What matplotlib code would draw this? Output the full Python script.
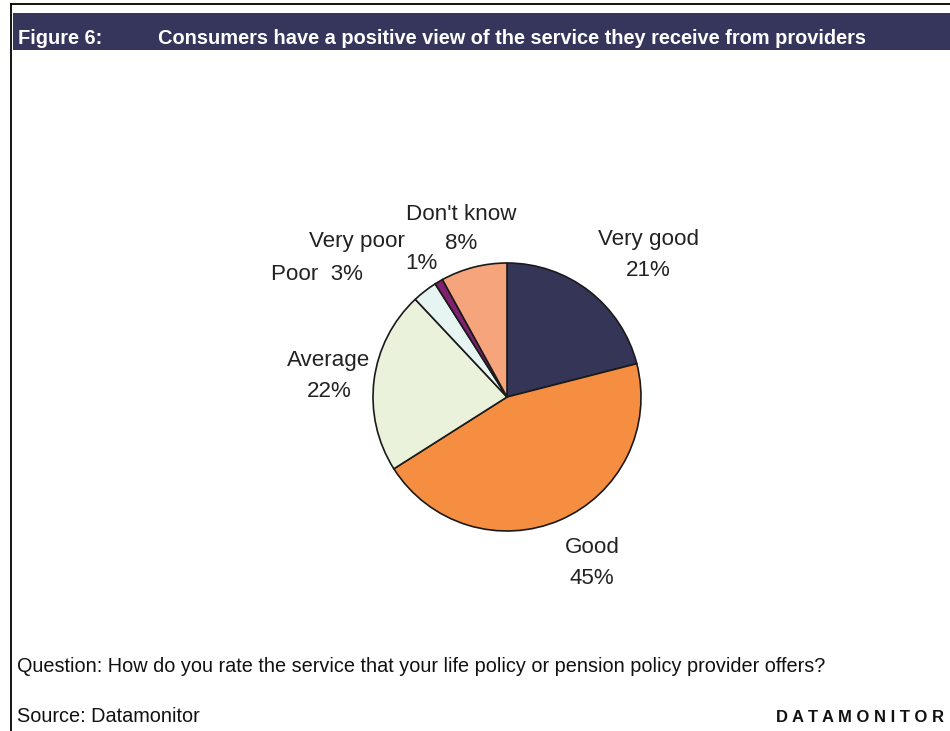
import matplotlib
matplotlib.use("Agg")
import matplotlib.pyplot as plt
from matplotlib.patches import Rectangle
from matplotlib.lines import Line2D

plt.rcParams['font.family'] = ['Liberation Sans', 'DejaVu Sans']

# Survey responses (share of consumers, %)
categories = ["Very good", "Good", "Average", "Poor", "Very poor", "Don't know"]
shares = [21, 45, 22, 3, 1, 8]
colors = ["#343557", "#F68E42", "#EAF2DC", "#E6F5F2", "#7E2270", "#F5A47C"]

title_num = "Figure 6:"
title_text = "Consumers have a positive view of the service they receive from providers"
question = "Question: How do you rate the service that your life policy or pension policy provider offers?"
source = "Source: Datamonitor"
brand = "DATAMONITOR"

W, H = 950, 731
fig = plt.figure(figsize=(W / 100, H / 100), dpi=100)
fig.patch.set_facecolor("white")


def fx(px):
    return px / W


def fy(py):
    return 1 - py / H


# Frame: top rule and left rule
fig.add_artist(Line2D([fx(11), 1], [fy(4), fy(4)], color="black", lw=1.3))
fig.add_artist(Line2D([fx(11), fx(11)], [fy(4), 0], color="black", lw=1.3))

# Header band
fig.add_artist(Rectangle((fx(13), fy(50)), 1 - fx(13), fy(13) - fy(50),
                         facecolor="#36365C", edgecolor="none"))
fig.text(fx(18), fy(38), title_num, color="white", fontsize=14.4,
         fontweight="bold", va="center", ha="left")
fig.text(fx(158), fy(38), title_text, color="white", fontsize=14.4,
         fontweight="bold", va="center", ha="left")

# Pie
cx, cy, r = 507, 397, 134
ax = fig.add_axes([fx(cx - r), fy(cy + r), 2 * r / W, 2 * r / H])
ax.pie(shares, colors=colors, startangle=90, counterclock=False, radius=1,
       wedgeprops=dict(edgecolor="#1a1a1a", linewidth=1.2))
ax.set_xlim(-1, 1)
ax.set_ylim(-1, 1)
ax.set_aspect("equal")
ax.axis("off")

lab_fs = 16.1
ls = 1.6
txt = dict(fontsize=lab_fs, ha="center", va="center", color="#222222")
pct = [f"{v}%" for v in shares]
fig.text(fx(648), fy(255), f"{categories[0]}\n{pct[0]}", linespacing=ls, **txt)
fig.text(fx(592), fy(563), f"{categories[1]}\n{pct[1]}", linespacing=ls, **txt)
fig.text(fx(329), fy(376), f"{categories[2]}\n{pct[2]}", linespacing=ls, **txt)
fig.text(fx(317), fy(275), f"{categories[3]}  {pct[3]}", **txt)
fig.text(fx(357), fy(241), categories[4], **txt)
fig.text(fx(421), fy(263), pct[4], **txt)
fig.text(fx(461), fy(215), categories[5], **txt)
fig.text(fx(461), fy(244), pct[5], **txt)

# Footer texts
fig.text(fx(17), fy(667), question, fontsize=14.3, ha="left", va="center",
         color="#111111")
fig.text(fx(17), fy(716), source, fontsize=14.3, ha="left", va="center",
         color="#111111")
fig.text(fx(776), fy(717), " ".join(brand), fontsize=12.0, fontweight="bold",
         ha="left", va="center", color="#111111")

fig.savefig("out.png", dpi=100)
